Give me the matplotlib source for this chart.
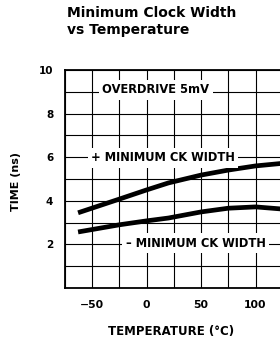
import numpy as np
import matplotlib
matplotlib.use("Agg")
import matplotlib.pyplot as plt

plt.rcParams["font.family"] = ["DejaVu Sans"]
plt.rcParams["font.weight"] = "bold"

# curve data (temperature in C, time in ns)
temp = [-63, -25, 0, 20, 50, 75, 100, 125, 150]
plus_width = [3.45, 4.08, 4.5, 4.82, 5.18, 5.41, 5.6, 5.72, 5.8]
minus_width = [2.57, 2.9, 3.08, 3.21, 3.49, 3.66, 3.72, 3.62, 3.55]

x_ticks = [-75, -50, -25, 0, 25, 50, 75, 100, 125, 150]
x_labels = ["", "\u221250", "", "0", "", "50", "", "100", "", ""]
y_ticks = list(range(0, 11))
y_labels = ["", "", "2", "", "4", "", "6", "", "8", "", "10"]

fig = plt.figure(figsize=(2.8, 3.45), dpi=100)
fig.patch.set_facecolor("white")

ax = fig.add_axes([65 / 280, 57 / 345, 245 / 280, 218 / 345])
ax.set_xlim(-75, 150)
ax.set_ylim(0, 10)
ax.set_xticks(x_ticks)
ax.set_xticklabels(x_labels, fontsize=7.8, fontweight="bold")
ax.set_yticks(y_ticks)
ax.set_yticklabels(y_labels, fontsize=7.5, fontweight="bold")
ax.tick_params(length=0, pad=8.5)
ax.grid(True, color="black", lw=0.8)
for s in ax.spines.values():
    s.set_linewidth(1.3)

ax.plot(temp, plus_width, color="black", lw=3.4, solid_capstyle="butt", zorder=3)
ax.plot(temp, minus_width, color="black", lw=3.4, solid_capstyle="butt", zorder=3)

box = dict(boxstyle="square,pad=0.3", fc="white", ec="none")
ax.text(8.5, 9.1, "OVERDRIVE 5mV", ha="center", va="center", fontsize=8.3,
        fontweight="bold", bbox=box, zorder=4)
ax.text(15, 5.98, "+ MINIMUM CK WIDTH", ha="center", va="center", fontsize=8.3,
        fontweight="bold", bbox=box, zorder=4)
ax.text(45, 2.05, "\u2013 MINIMUM CK WIDTH", ha="center", va="center", fontsize=8.3,
        fontweight="bold", bbox=box, zorder=4)

fig.text(16 / 280, 1 - 181 / 345, "TIME (ns)", rotation=90, ha="center", va="center",
         fontsize=8, fontweight="bold")
fig.text(171 / 280, 1 - 332 / 345, "TEMPERATURE (\u00b0C)", ha="center", va="center",
         fontsize=8.5, fontweight="bold")
fig.text(67 / 280, 1 - 6 / 345, "Minimum Clock Width\nvs Temperature", ha="left", va="top",
         fontsize=10, fontweight="bold", linespacing=1.25)

fig.savefig("out.png", dpi=100)
